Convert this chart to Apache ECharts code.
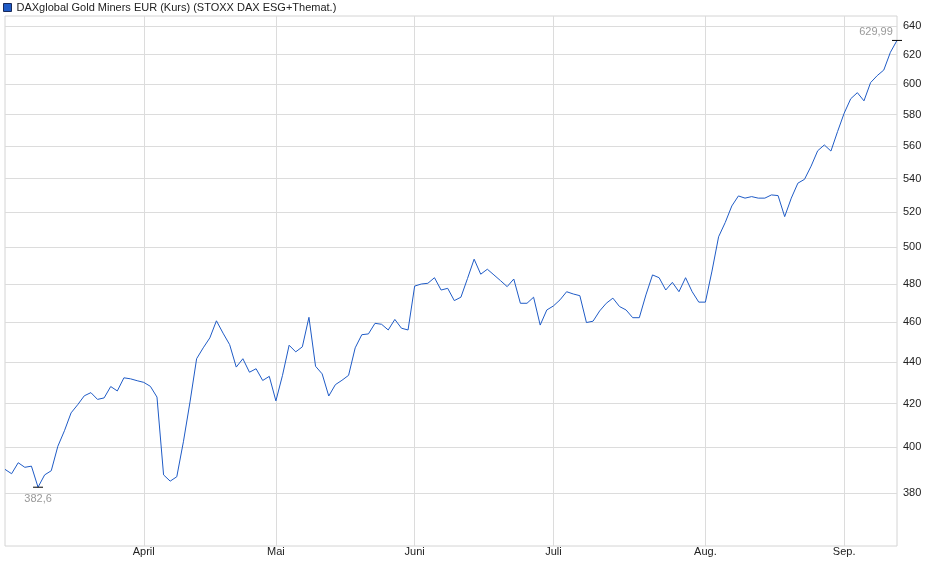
<!DOCTYPE html>
<html><head><meta charset="utf-8">
<script src="https://cdn.jsdelivr.net/npm/echarts@6/dist/echarts.min.js"></script>
<style>html,body{margin:0;padding:0;background:#fff}#c{width:940px;height:579px}</style>
</head><body><div id="c"></div>
<script>
const seriesName = 'DAXglobal Gold Miners EUR (Kurs) (STOXX DAX ESG+Themat.)';
const dates = [
'2025-03-03','2025-03-04','2025-03-05','2025-03-06','2025-03-07','2025-03-10','2025-03-11','2025-03-12','2025-03-13','2025-03-14',
'2025-03-17','2025-03-18','2025-03-19','2025-03-20','2025-03-21','2025-03-24','2025-03-25','2025-03-26','2025-03-27','2025-03-28','2025-03-31',
'2025-04-01','2025-04-02','2025-04-03','2025-04-04','2025-04-07','2025-04-08','2025-04-09','2025-04-10','2025-04-11','2025-04-14',
'2025-04-15','2025-04-16','2025-04-17','2025-04-22','2025-04-23','2025-04-24','2025-04-25','2025-04-28','2025-04-29','2025-04-30',
'2025-05-02','2025-05-05','2025-05-06','2025-05-07','2025-05-08','2025-05-09','2025-05-12','2025-05-13','2025-05-14','2025-05-15',
'2025-05-16','2025-05-19','2025-05-20','2025-05-21','2025-05-22','2025-05-23','2025-05-26','2025-05-27','2025-05-28','2025-05-29','2025-05-30',
'2025-06-02','2025-06-03','2025-06-04','2025-06-05','2025-06-06','2025-06-09','2025-06-10','2025-06-11','2025-06-12','2025-06-13',
'2025-06-16','2025-06-17','2025-06-18','2025-06-19','2025-06-20','2025-06-23','2025-06-24','2025-06-25','2025-06-26','2025-06-27','2025-06-30',
'2025-07-01','2025-07-02','2025-07-03','2025-07-04','2025-07-07','2025-07-08','2025-07-09','2025-07-10','2025-07-11','2025-07-14',
'2025-07-15','2025-07-16','2025-07-17','2025-07-18','2025-07-21','2025-07-22','2025-07-23','2025-07-24','2025-07-25','2025-07-28',
'2025-07-29','2025-07-30','2025-07-31',
'2025-08-01','2025-08-04','2025-08-05','2025-08-06','2025-08-07','2025-08-08','2025-08-11','2025-08-12','2025-08-13','2025-08-14',
'2025-08-15','2025-08-18','2025-08-19','2025-08-20','2025-08-21','2025-08-22','2025-08-25','2025-08-26','2025-08-27','2025-08-28','2025-08-29',
'2025-09-01','2025-09-02','2025-09-03','2025-09-04','2025-09-05','2025-09-08','2025-09-09','2025-09-10','2025-09-11'
];
const values = [
390.3,388.4,393.2,391.2,391.7,382.6,387.9,389.7,400.5,407.5,
415.7,419.5,423.7,425.2,422.0,422.7,428.1,426.0,432.3,431.8,430.9,
430.1,428.2,423.1,387.9,385.2,387.1,402.5,420.8,441.6,447.0,
452.0,460.7,454.4,448.6,437.5,441.6,435.0,436.7,431.0,433.0,
421.3,433.5,448.3,445.0,447.5,462.5,437.9,434.2,423.6,429.0,
431.1,433.5,447.0,453.6,454.0,459.4,458.9,456.0,461.4,456.9,456.0,
478.9,480.0,480.4,483.4,476.8,477.7,471.2,473.0,483.0,493.5,
485.3,488.0,484.9,481.8,478.6,482.7,469.8,469.8,473.0,458.5,466.3,
468.4,471.6,475.9,474.7,473.8,459.8,460.5,465.8,469.8,472.5,
468.1,466.3,462.3,462.3,474.2,484.9,483.4,476.8,480.9,475.9,
483.4,475.9,470.4,
470.4,487.0,506.0,514.1,523.7,529.6,528.3,529.2,528.3,528.3,
530.2,529.8,517.5,528.3,537.2,539.5,547.5,557.0,560.6,556.8,569.0,
580.8,590.3,594.3,588.9,601.0,605.7,609.5,621.7,629.99
];
const yTicks = [380,400,420,440,460,480,500,520,540,560,580,600,620,640];
const yRange = [358.3, 647.4];
const monthNames = ['Jan.','Feb.','März','April','Mai','Juni','Juli','Aug.','Sep.','Okt.','Nov.','Dez.'];

const isMonthStart = i => i > 0 && dates[i].slice(5,7) !== dates[i-1].slice(5,7);
const fmtNum = v => String(v).replace('.', ',');
let minI = 0, maxI = 0;
values.forEach((v,i)=>{ if (v < values[minI]) minI = i; if (v > values[maxI]) maxI = i; });

const chart = echarts.init(document.getElementById('c'), null, {renderer:'canvas'});
const font = 'Liberation Sans, Arial, sans-serif';
chart.setOption({
  animation: false,
  textStyle: {fontFamily: font},
  legend: {
    left: 3, top: 2, padding: 0, icon: 'rect', itemWidth: 8, itemHeight: 8, itemGap: 4,
    textStyle: {fontSize: 11, color: '#222', fontFamily: font},
    itemStyle: {borderColor: '#1a2a5a', borderWidth: 1}
  },
  grid: {left: 5, right: 43, top: 16, bottom: 33, show: true, borderColor: '#d4d4d4', borderWidth: 1},
  xAxis: {
    type: 'category', data: dates, boundaryGap: false,
    axisLine: {show: false}, axisTick: {show: false},
    axisLabel: {interval: i => isMonthStart(i), formatter: v => monthNames[+v.slice(5,7)-1],
      fontSize: 11, color: '#222', margin: 0, fontFamily: font},
    splitLine: {show: true, interval: i => isMonthStart(i), lineStyle: {color: '#dcdcdc', width: 1}}
  },
  yAxis: {
    type: 'value', position: 'right', scale: true,
    min: Math.log(yRange[0]), max: Math.log(yRange[1]),
    axisLine: {show: false},
    axisTick: {show: false, customValues: yTicks.map(Math.log)},
    axisLabel: {customValues: yTicks.map(Math.log), formatter: v => String(Math.round(Math.exp(v))),
      fontSize: 11, color: '#222', margin: 6, fontFamily: font},
    splitLine: {show: true, lineStyle: {color: '#dcdcdc', width: 1}}
  },
  series: [{
    name: seriesName, type: 'line', showSymbol: false, symbol: 'none',
    data: values.map(Math.log),
    lineStyle: {color: '#1f5bc6', width: 1},
    itemStyle: {color: '#1f5bc6'},
    markPoint: {
      symbol: 'rect', symbolSize: [10, 1], itemStyle: {color: '#000'},
      data: [
        {coord: [minI, Math.log(values[minI])], value: values[minI],
         label: {show: true, position: 'bottom', distance: 6, formatter: fmtNum(values[minI]), color: '#999', fontSize: 11, fontFamily: font}},
        {coord: [maxI, Math.log(values[maxI])], value: values[maxI],
         label: {show: true, position: 'top', distance: 2, offset: [-21, 0], formatter: fmtNum(values[maxI]), color: '#999', fontSize: 11, fontFamily: font}}
      ]
    }
  }]
});
</script></body></html>
